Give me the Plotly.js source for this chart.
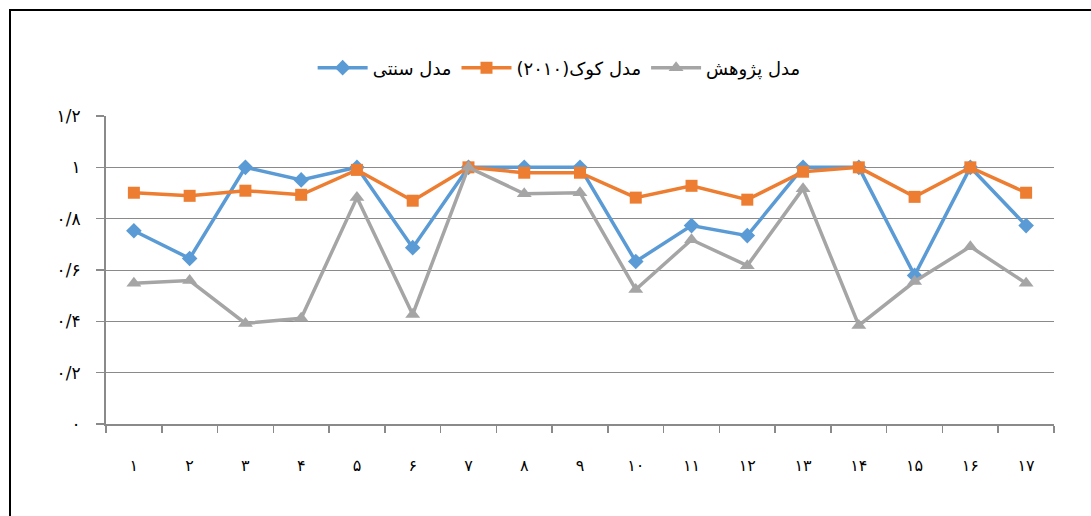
<!DOCTYPE html>
<html>
<head>
<meta charset="utf-8">
<script src="https://cdn.plot.ly/plotly-3.0.1.min.js"></script>
<style>
  html, body { margin: 0; padding: 0; background: #fff; }
  #wrap { position: relative; width: 1091px; height: 516px; overflow: hidden; }
  #chart { width: 1091px; height: 516px; }
  #frame { position: absolute; left: 9px; top: 9px; width: 1100px; height: 520px;
           border-left: 2px solid #000; border-top: 2px solid #000; pointer-events: none; }
</style>
</head>
<body>
<div id="wrap">
  <div id="chart"></div>
  <div id="frame"></div>
</div>
<script>
const categories = ["۱","۲","۳","۴","۵","۶","۷","۸","۹","۱۰","۱۱","۱۲","۱۳","۱۴","۱۵","۱۶","۱۷"];
const seriesNames = ["مدل سنتی", "مدل کوک(۲۰۱۰)", "مدل پژوهش"];
const traditional = [0.753, 0.645, 1.0, 0.951, 1.0, 0.687, 1.0, 1.0, 1.0, 0.633, 0.773, 0.734, 1.0, 1.0, 0.579, 1.0, 0.773];
const cook2010 = [0.901, 0.889, 0.909, 0.893, 0.99, 0.87, 1.0, 0.979, 0.979, 0.882, 0.928, 0.874, 0.983, 1.0, 0.885, 1.0, 0.901];
const research = [0.548, 0.559, 0.392, 0.412, 0.882, 0.427, 1.0, 0.897, 0.901, 0.524, 0.718, 0.617, 0.917, 0.384, 0.555, 0.691, 0.548];
const yTickVals = [0, 0.2, 0.4, 0.6, 0.8, 1, 1.2];
const yTickText = ["۰", "۰/۲", "۰/۴", "۰/۶", "۰/۸", "۱", "۱/۲"];

const font = "DejaVu Sans, Noto Sans, sans-serif";

const traces = [
  { x: categories, y: traditional, name: seriesNames[0], type: "scatter", mode: "lines+markers",
    line: { color: "#5B9BD5", width: 3.5 }, marker: { symbol: "diamond", size: 12, color: "#5B9BD5" } },
  { x: categories, y: cook2010, name: seriesNames[1], type: "scatter", mode: "lines+markers",
    line: { color: "#ED7D31", width: 3.5 }, marker: { symbol: "square", size: 12, color: "#ED7D31" } },
  { x: categories, y: research, name: seriesNames[2], type: "scatter", mode: "lines+markers",
    line: { color: "#A5A5A5", width: 3.5 }, marker: { symbol: "triangle-up", size: 13, color: "#A5A5A5" } }
];

const layout = {
  width: 1091, height: 516,
  margin: { l: 106, r: 37, t: 116, b: 92 },
  paper_bgcolor: "#fff", plot_bgcolor: "#fff",
  font: { family: font, color: "#000", size: 15 },
  showlegend: true,
  legend: { orientation: "h", x: 0.478, xanchor: "center", y: 1.156, yanchor: "middle",
            font: { family: font, size: 18, color: "#000" }, itemwidth: 50, bgcolor: "rgba(0,0,0,0)" },
  xaxis: {
    type: "category", categoryorder: "array", categoryarray: categories, range: [-0.5, 16.5],
    tickson: "boundaries", ticks: "outside", ticklen: 7, tickcolor: "#8a8a8a", tickwidth: 1.5,
    showline: true, linecolor: "#8a8a8a", linewidth: 2, showgrid: false, zeroline: false,
    tickfont: { family: font, size: 16, color: "#000" }, ticklabelstandoff: 26, fixedrange: true
  },
  yaxis: {
    range: [0, 1.2], tickvals: yTickVals, ticktext: yTickText, ticks: "outside", ticklen: 8,
    tickcolor: "#8a8a8a", tickwidth: 1.5, showline: true, linecolor: "#8a8a8a", linewidth: 2,
    showgrid: true, gridcolor: "#8a8a8a", gridwidth: 1, zeroline: false,
    tickfont: { family: font, size: 17, color: "#000" }, ticklabelstandoff: 12, fixedrange: true
  }
};

Plotly.newPlot("chart", traces, layout, { displayModeBar: false, staticPlot: true });
</script>
</body>
</html>
